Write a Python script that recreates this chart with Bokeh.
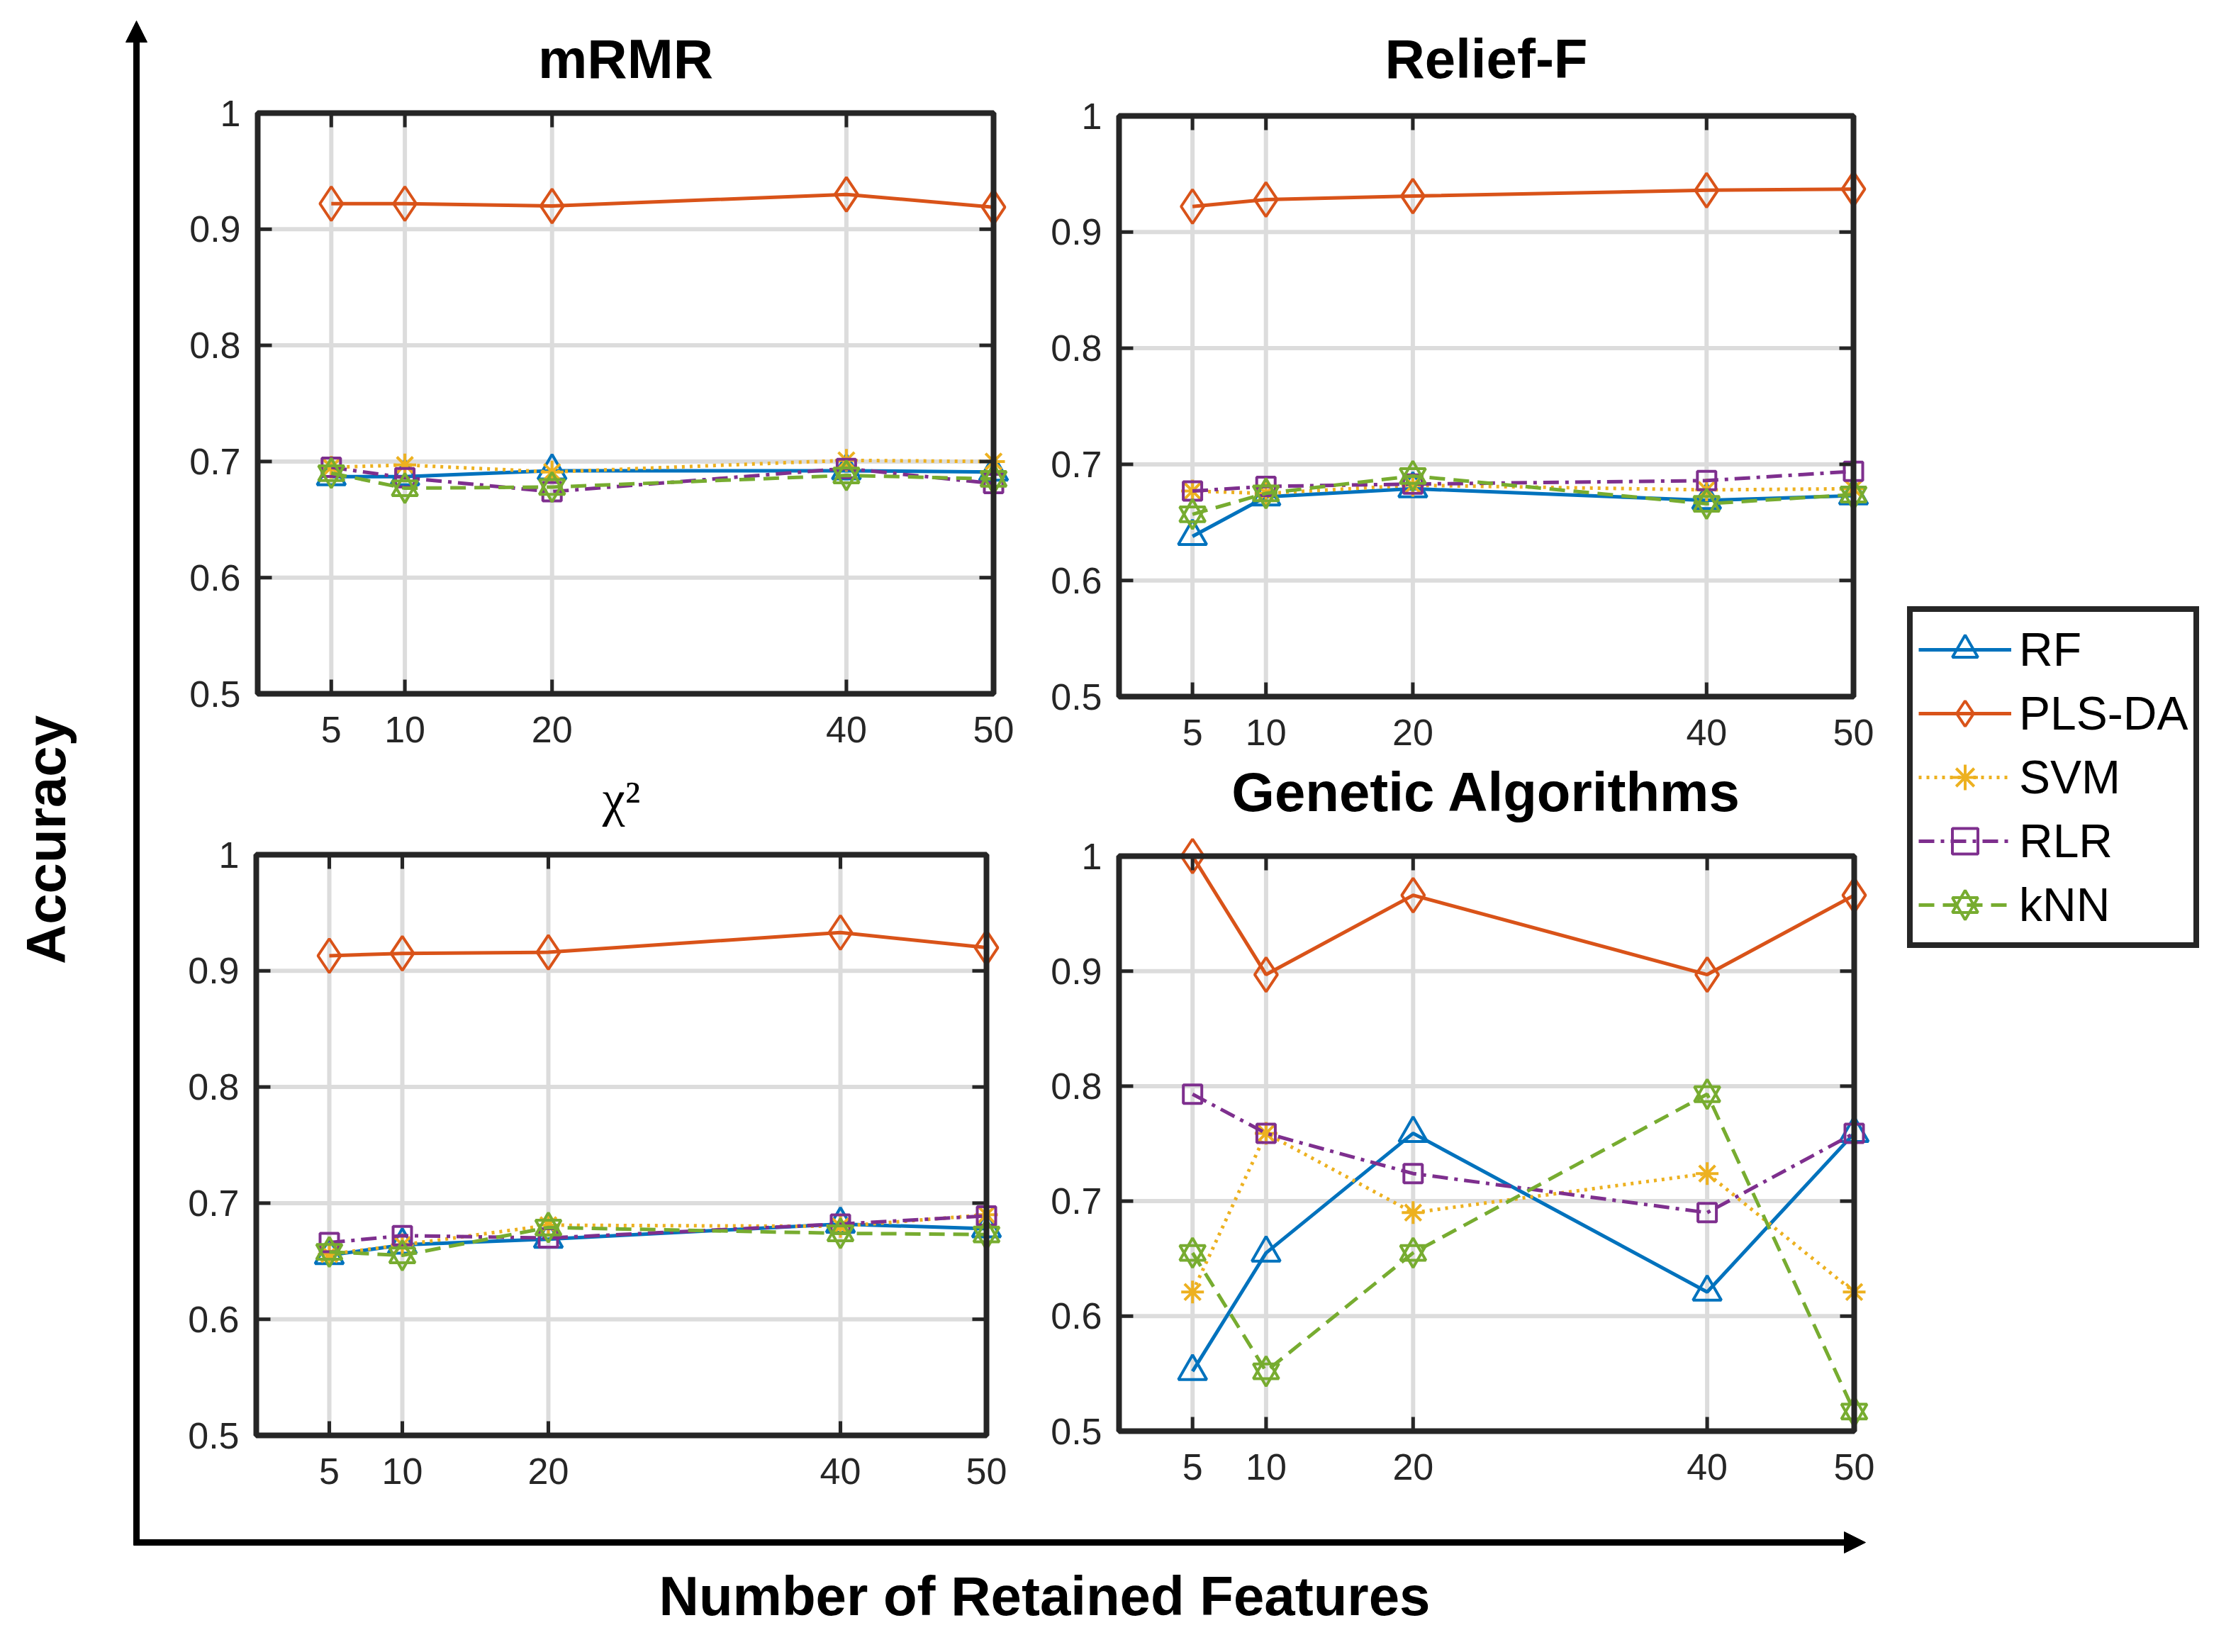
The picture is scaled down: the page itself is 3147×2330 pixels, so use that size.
import math
from bokeh.plotting import figure
from bokeh.models import Range1d, Arrow, NormalHead, Legend, LegendItem, Label
from bokeh.core.properties import value
from bokeh.embed import file_html
from bokeh.resources import INLINE

# ---------------- data ----------------
features = [5, 10, 20, 40, 50]
y_ticks = [0.5, 0.6, 0.7, 0.8, 0.9, 1.0]
x_lim = (0, 50)
y_lim = (0.5, 1.0)
methods = ["RF", "PLS-DA", "SVM", "RLR", "kNN"]

mrmr_rf = [0.687, 0.687, 0.692, 0.692, 0.691]
mrmr_plsda = [0.922, 0.922, 0.920, 0.930, 0.919]
mrmr_svm = [0.695, 0.697, 0.691, 0.701, 0.700]
mrmr_rlr = [0.695, 0.686, 0.674, 0.694, 0.681]
mrmr_knn = [0.690, 0.677, 0.678, 0.688, 0.685]

relief_rf = [0.638, 0.672, 0.679, 0.669, 0.673]
relief_plsda = [0.922, 0.928, 0.931, 0.936, 0.937]
relief_svm = [0.677, 0.675, 0.682, 0.678, 0.679]
relief_rlr = [0.677, 0.681, 0.683, 0.686, 0.694]
relief_knn = [0.657, 0.675, 0.690, 0.666, 0.674]

chi2_rf = [0.655, 0.664, 0.669, 0.682, 0.678]
chi2_plsda = [0.913, 0.915, 0.916, 0.933, 0.920]
chi2_svm = [0.656, 0.664, 0.681, 0.680, 0.690]
chi2_rlr = [0.666, 0.672, 0.670, 0.682, 0.689]
chi2_knn = [0.658, 0.655, 0.679, 0.674, 0.673]

ga_rf = [0.552, 0.655, 0.759, 0.621, 0.759]
ga_plsda = [1.000, 0.897, 0.966, 0.897, 0.966]
ga_svm = [0.621, 0.759, 0.690, 0.724, 0.621]
ga_rlr = [0.793, 0.759, 0.724, 0.690, 0.759]
ga_knn = [0.655, 0.552, 0.655, 0.793, 0.517]

titles = ["mRMR", "Relief-F", "\u03c7\u00b2", "Genetic Algorithms"]
x_label = "Number of Retained Features"
y_label = "Accuracy"

# ---------------- layout (page pixels) & styles ----------------
AX = "#262626"
GRID = "#dcdcdc"
FONT = "Liberation Sans"
W, H = 3131, 2314
X0, Y0 = 8, 8
X1, Y1 = X0 + W, Y0 + H
# plotting box of each panel: left, right, top, bottom ; title rise above box top
boxes = {"mrmr": (371, 1409, 167, 986, 77),
         "relief": (1586, 2622, 171, 990, 81),
         "chi2": (369, 1399, 1213, 2032, 79),
         "ga": (1586, 2623, 1215, 2026, 91)}
TICK = 20

styles = {
    "RF": dict(color="#0072BD", dash="solid", marker="triangle", size=40),
    "PLS-DA": dict(color="#D95319", dash="solid", marker="diamond", size=48),
    "SVM": dict(color="#EDB120", dash="4 7", marker="asterisk", size=32),
    "RLR": dict(color="#7E2F8E", dash="22 9 5 9", marker="square", size=26),
    "kNN": dict(color="#77AC30", dash="22 12", marker="hexagram", size=36),
}

# ranges that put each panel's axes box at its place on the shared canvas
xr, yr, scale = {}, {}, {}
for key, (fl, fr, ft, fb, _) in boxes.items():
    sx = (fr - fl) / (x_lim[1] - x_lim[0])
    sy = (fb - ft) / (y_lim[1] - y_lim[0])
    scale[key] = (sx, sy)
    xr[key] = Range1d(x_lim[0] - (fl - X0) / sx, x_lim[1] + (X1 - fr) / sx)
    yr[key] = Range1d(y_lim[0] - (Y1 - fb) / sy, y_lim[1] + (ft - Y0) / sy)

p = figure(width=W, height=H, x_range=Range1d(X0, X1), y_range=Range1d(Y1, Y0),
           extra_x_ranges=xr, extra_y_ranges=yr, x_axis_type=None, y_axis_type=None,
           output_backend="svg", toolbar_location=None, min_border=0)
p.outline_line_alpha = 0.0
p.background_fill_color = "white"
p.border_fill_color = "white"


def add_series(xs, ys, m, kw):
    st = styles[m]
    rends = [p.line(xs, ys, line_color=st["color"], line_width=5, line_dash=st["dash"], **kw)]
    kinds = ("triangle", "inverted_triangle") if st["marker"] == "hexagram" else (st["marker"],)
    for mk in kinds:
        rends.append(p.scatter(xs, ys, marker=mk, size=st["size"], fill_alpha=0.0,
                               line_color=st["color"], line_width=4, **kw))
    return rends


def panel(key, title, series, serif=False):
    kw = dict(x_range_name=key, y_range_name=key)
    sx, sy = scale[key]
    rise = boxes[key][4]
    xlo, xhi = x_lim
    ylo, yhi = y_lim
    n, m = len(features), len(y_ticks)
    # grid
    p.segment(x0=features, y0=[ylo] * n, x1=features, y1=[yhi] * n,
              line_color=GRID, line_width=6, **kw)
    p.segment(x0=[xlo] * m, y0=y_ticks, x1=[xhi] * m, y1=y_ticks,
              line_color=GRID, line_width=6, **kw)
    # data
    rends = {}
    for meth, ys in zip(methods, series):
        rends[meth] = add_series(features, ys, meth, kw)
    # box
    p.quad(left=[xlo], right=[xhi], bottom=[ylo], top=[yhi], fill_alpha=0.0,
           line_color=AX, line_width=8, **kw)
    # inward ticks on all four sides
    tx, ty = TICK / sx, TICK / sy
    tick = dict(line_color=AX, line_width=5, **kw)
    p.segment(x0=features, y0=[ylo] * n, x1=features, y1=[ylo + ty] * n, **tick)
    p.segment(x0=features, y0=[yhi] * n, x1=features, y1=[yhi - ty] * n, **tick)
    p.segment(x0=[xlo] * m, y0=y_ticks, x1=[xlo + tx] * m, y1=y_ticks, **tick)
    p.segment(x0=[xhi] * m, y0=y_ticks, x1=[xhi - tx] * m, y1=y_ticks, **tick)
    # tick labels
    lab = dict(text_font=value(FONT), text_font_size="52px", text_color=AX, **kw)
    p.text(x=features, y=[ylo] * n, text=[str(f) for f in features], y_offset=50,
           text_align="center", text_baseline="middle", **lab)
    p.text(x=[xlo] * m, y=y_ticks, text=[f"{t:g}" for t in y_ticks], x_offset=-24,
           text_align="right", text_baseline="middle", **lab)
    # title
    if serif:
        tfont, tsize, tstyle = "Liberation Serif", "72px", "normal"
    else:
        tfont, tsize, tstyle = FONT, "78px", "bold"
    p.text(x=[(xlo + xhi) / 2], y=[yhi], text=[title], y_offset=-rise, text_align="center",
           text_baseline="middle", text_font=value(tfont), text_font_size=tsize,
           text_font_style=tstyle, text_color="black", **kw)
    return rends


panel("mrmr", titles[0], [mrmr_rf, mrmr_plsda, mrmr_svm, mrmr_rlr, mrmr_knn])
panel("relief", titles[1], [relief_rf, relief_plsda, relief_svm, relief_rlr, relief_knn])
panel("chi2", titles[2], [chi2_rf, chi2_plsda, chi2_svm, chi2_rlr, chi2_knn], serif=True)
ga_rends = panel("ga", titles[3], [ga_rf, ga_plsda, ga_svm, ga_rlr, ga_knn])

# legend
leg = Legend(items=[LegendItem(label=m, renderers=ga_rends[m]) for m in methods],
             location=(2698 - X0, Y1 - 1345), orientation="vertical",
             border_line_color=AX, border_line_width=8, border_line_alpha=1.0,
             background_fill_color="white", background_fill_alpha=1.0,
             label_text_font=FONT, label_text_font_size="66px",
             label_text_color="black", glyph_width=131, glyph_height=90, label_height=90,
             spacing=0, padding=8, margin=0, label_standoff=11)
p.add_layout(leg)

# outer arrows
p.add_layout(Arrow(end=NormalHead(size=30, fill_color="black", line_color="black", line_width=1),
                   x_start=200, y_start=2187, x_end=200, y_end=37,
                   line_color="black", line_width=9))
p.add_layout(Arrow(end=NormalHead(size=30, fill_color="black", line_color="black", line_width=1),
                   x_start=196, y_start=2183, x_end=2639, y_end=2183,
                   line_color="black", line_width=9))

# outer axis titles
p.add_layout(Label(x=1481, y=2258, text=x_label, text_align="center", text_baseline="middle",
                   text_font=FONT, text_font_size="78px", text_font_style="bold",
                   text_color="black"))
p.add_layout(Label(x=72, y=1192, text=y_label, angle=math.pi / 2, angle_units="rad",
                   text_align="center", text_baseline="middle", text_font=FONT,
                   text_font_size="78px", text_font_style="bold", text_color="black"))

open("out.html", "w").write(file_html(p, INLINE))
